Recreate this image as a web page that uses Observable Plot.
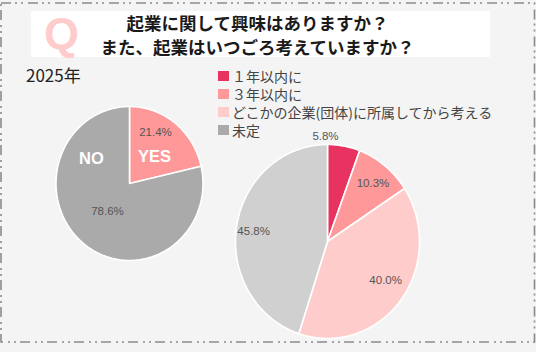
<!DOCTYPE html>
<html><head><meta charset="utf-8">
<script src="https://cdn.jsdelivr.net/npm/d3@7"></script>
<script src="https://cdn.jsdelivr.net/npm/@observablehq/plot@0.6"></script>
<style>
html,body{margin:0;padding:0;background:#f4f4f4;}
#wrap{position:relative;width:536px;height:352px;overflow:hidden;background:#f4f4f4;font-family:"Noto Sans CJK JP","Noto Sans",sans-serif;}
.abs{position:absolute;}
#titlebox{left:31px;top:11px;width:459px;height:46px;background:#fff;}
#q{left:44px;top:11px;font-family:"Liberation Sans",Arial,sans-serif;font-weight:bold;font-size:45px;line-height:45px;color:#ffcccc;}
#title{left:28px;top:11px;width:459px;text-align:center;font-size:17.5px;line-height:24px;font-weight:bold;color:#1a1a1a;}
#year{left:26px;top:65px;font-size:17px;line-height:20px;color:#222;}
#legend{left:218px;top:67px;font-size:14px;line-height:18px;color:#444;z-index:5;}
.row{display:flex;align-items:center;height:18px;}
.sw{width:11px;height:10px;margin-right:3px;flex:none;}
</style></head><body>
<div id="wrap">
  <svg class="abs" style="left:0;top:0" width="536" height="352"><rect x="1" y="3" width="533.5" height="339" fill="none" stroke="#8a8a8a" stroke-width="1.6" stroke-dasharray="10 4 2 4 2 5"/></svg>
  <div id="titlebox" class="abs"></div>
  <div id="q" class="abs">Q</div>
  <div id="title" class="abs"></div>
  <div id="year" class="abs"></div>
  <div id="legend" class="abs"></div>
</div>
<script>
// ---- data ----
const titleLines = ["起業に関して興味はありますか？", "また、起業はいつごろ考えていますか？"];
const yearLabel = "2025年";

const interestNames = ["YES", "NO"];
const interestValues = [21.4, 78.6];
const interestColors = ["#ff9999", "#aaaaaa"];

const timingNames = ["１年以内に", "３年以内に", "どこかの企業(団体)に所属してから考える", "未定"];
const timingValues = [5.8, 10.3, 40.0, 45.8];
const timingColors = ["#e8325f", "#ff9999", "#ffcccc", "#d0d0d0"];
const legendColors = ["#e8325f", "#ff9999", "#ffcccc", "#aaaaaa"];

// ---- label layout (angle shift from slice middle in degrees, radius fraction) ----
const interestPctLayout = [{shift: -10.4, k: 0.75}, {shift: 1, k: 0.47}];
const interestNameLayout = [{shift: 5.5, k: 0.49}, {shift: 83.5, k: 0.61}];
const timingPctLayout = [{shift: -11.4, k: 1.08}, {shift: 0.6, k: 0.78}, {shift: -5, k: 0.75}, {shift: -1.5, k: 0.81}];

// ---- html text ----
document.getElementById("title").innerHTML = titleLines.map(t => `<div>${t}</div>`).join("");
document.getElementById("year").textContent = yearLabel;
document.getElementById("legend").innerHTML = timingNames.map((n, i) =>
  `<div class="row"><span class="sw" style="background:${legendColors[i]}"></span><span>${n}</span></div>`).join("");

function slicePoints(values) {
  const arcs = d3.pie().sort(null).value(d => d)(values);
  const pts = [];
  arcs.forEach((a, i) => {
    pts.push({k: i, x: 0, y: 0});
    const n = Math.max(2, Math.ceil((a.endAngle - a.startAngle) * 180 / Math.PI));
    for (let j = 0; j <= n; j++) {
      const t = a.startAngle + (a.endAngle - a.startAngle) * j / n;
      pts.push({k: i, x: Math.sin(t), y: Math.cos(t)});
    }
  });
  return {arcs, pts};
}

function labelPos(arcs, layout, texts) {
  return arcs.map((a, i) => {
    const mid = (a.startAngle + a.endAngle) / 2 + layout[i].shift * Math.PI / 180;
    return {x: layout[i].k * Math.sin(mid), y: layout[i].k * Math.cos(mid), text: texts[i]};
  });
}

function makePie({values, colors, cx, cy, rx, ry, half, extraMarks}) {
  const {arcs, pts} = slicePoints(values);
  const size = half * 2;
  const chart = Plot.plot({
    width: size, height: size, margin: 0,
    style: {background: "transparent", overflow: "visible"},
    x: {domain: [-half / rx, half / rx], axis: null},
    y: {domain: [-half / ry, half / ry], axis: null},
    color: {domain: d3.range(values.length), range: colors},
    marks: [
      Plot.line(pts, {x: "x", y: "y", z: "k", fill: "k", stroke: "white", strokeWidth: 1.6, strokeLinejoin: "round", curve: "linear-closed"}),
      ...extraMarks(arcs)
    ]
  });
  chart.style.position = "absolute";
  chart.style.left = (cx - half) + "px";
  chart.style.top = (cy - half) + "px";
  document.getElementById("wrap").appendChild(chart);
}

const pctFont = {fontFamily: "'Liberation Sans', Arial, sans-serif", fontSize: 11.5, fill: "#555"};

makePie({
  values: interestValues, colors: interestColors, cx: 128.5, cy: 183, rx: 73.5, ry: 77, half: 90,
  extraMarks: arcs => [
    Plot.text(labelPos(arcs, interestPctLayout, interestValues.map(v => v.toFixed(1) + "%")), {x: "x", y: "y", text: "text", ...pctFont}),
    Plot.text(labelPos(arcs, interestNameLayout, interestNames), {x: "x", y: "y", text: "text", fontFamily: "'Liberation Sans', Arial, sans-serif", fontSize: 16.5, fontWeight: "bold", fill: "white"})
  ]
});

makePie({
  values: timingValues, colors: timingColors, cx: 326.5, cy: 241, rx: 92, ry: 97, half: 115,
  extraMarks: arcs => [
    Plot.text(labelPos(arcs, timingPctLayout, timingValues.map(v => v.toFixed(1) + "%")), {x: "x", y: "y", text: "text", ...pctFont})
  ]
});
</script>
</body></html>
